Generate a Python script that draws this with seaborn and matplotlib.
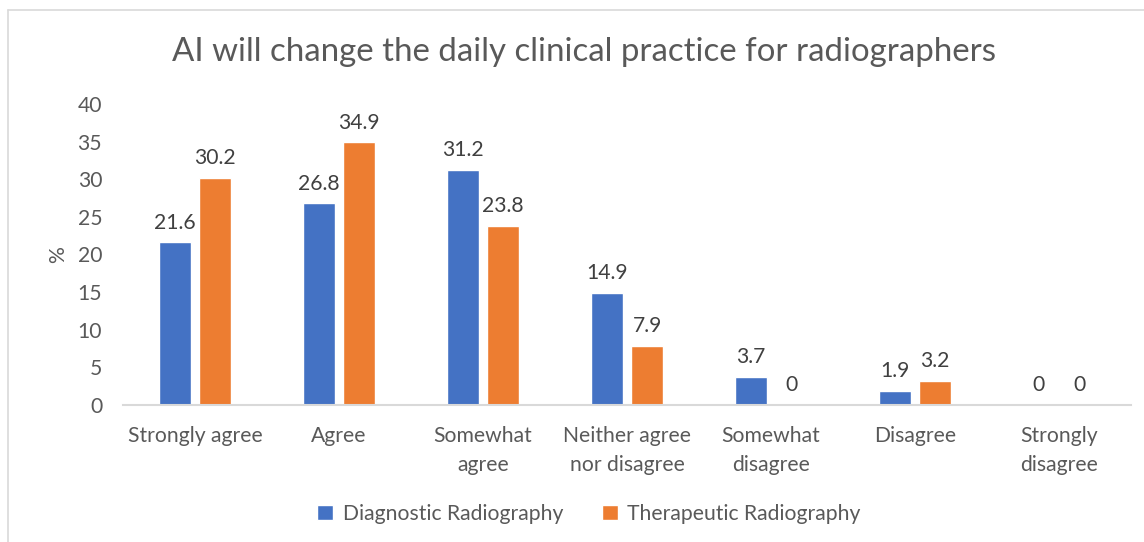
import matplotlib
matplotlib.use("Agg")
import matplotlib.pyplot as plt
import seaborn as sns
import pandas as pd
from matplotlib.lines import Line2D

categories = ["Strongly agree", "Agree", "Somewhat\nagree", "Neither agree\nnor disagree",
              "Somewhat\ndisagree", "Disagree", "Strongly\ndisagree"]
series_names = ["Diagnostic Radiography", "Therapeutic Radiography"]
diagnostic = [21.6, 26.8, 31.2, 14.9, 3.7, 1.9, 0]
therapeutic = [30.2, 34.9, 23.8, 7.9, 0, 3.2, 0]
yticks = [0, 5, 10, 15, 20, 25, 30, 35, 40]

sns.set_theme(style="white")
plt.rcParams['font.family'] = ['Lato', 'DejaVu Sans']

df = pd.DataFrame({
    "category": categories * 2,
    "series": [series_names[0]] * len(categories) + [series_names[1]] * len(categories),
    "value": diagnostic + therapeutic,
})

FS = 15.2
fig = plt.figure(figsize=(11.44, 5.42), dpi=100)
ax = fig.add_axes([123 / 1144, 137 / 542, (1131 - 123) / 1144, (438 - 137) / 542])
palette = {series_names[0]: "#4472C4", series_names[1]: "#ED7D31"}
sns.barplot(data=df, x="category", y="value", hue="series", order=categories,
            hue_order=series_names, palette=palette, width=0.56, gap=0.2,
            saturation=1, ax=ax, legend=True)

for cont in ax.containers:
    ax.bar_label(cont, labels=[f"{v:g}" for v in cont.datavalues], padding=7,
                 fontsize=FS, color="#404040")

ax.set_ylim(0, 40)
ax.set_xlim(-0.5, len(categories) - 0.5)
ax.set_yticks(yticks)
ax.set_yticklabels([str(t) for t in yticks])
ax.tick_params(axis="y", length=0, pad=15, labelsize=FS, labelcolor="#595959")
ax.tick_params(axis="x", length=0, pad=15, labelsize=FS, labelcolor="#595959")
for lbl in ax.get_xticklabels():
    lbl.set_linespacing(1.55)
ax.set_xlabel("")
ax.set_ylabel("%", fontsize=FS, color="#595959", labelpad=7)
for s in ["top", "right", "left"]:
    ax.spines[s].set_visible(False)
ax.spines["bottom"].set_color("#D9D9D9")
ax.spines["bottom"].set_linewidth(1.5)

leg = ax.get_legend()
handles = leg.legend_handles
leg.remove()
fig.legend(handles, series_names, loc="center", bbox_to_anchor=(589 / 1144, 1 - 514 / 542),
           ncol=2, frameon=False, fontsize=FS, labelcolor="#595959",
           handlelength=0.75, handleheight=0.75, handletextpad=0.45, columnspacing=1.85)

fig.text(584 / 1144, 1 - 52 / 542, "AI will change the daily clinical practice for radiographers",
         ha="center", va="center", fontsize=23.8, color="#595959")

fig.add_artist(Line2D([8 / 1144, 8 / 1144], [0, 1 - 10 / 542], transform=fig.transFigure,
                      color="#D9D9D9", lw=1.2))
fig.add_artist(Line2D([8 / 1144, 1], [1 - 10 / 542, 1 - 10 / 542], transform=fig.transFigure,
                      color="#D9D9D9", lw=1.2))

fig.savefig("out.png", dpi=100)
